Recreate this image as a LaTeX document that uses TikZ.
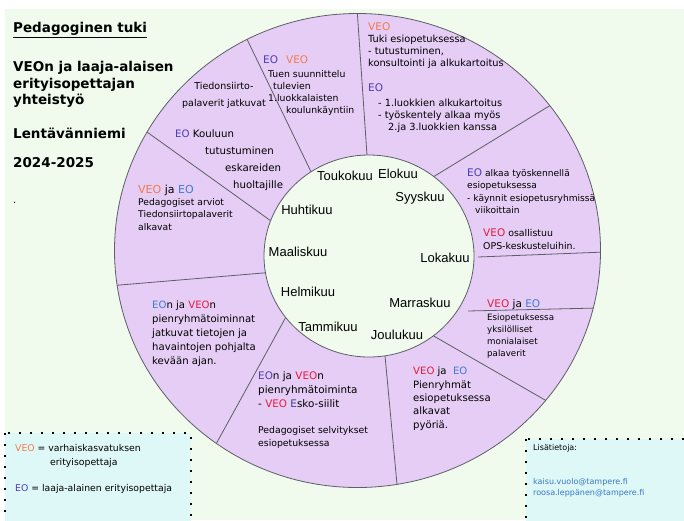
\documentclass[tikz,border=0pt]{standalone}
\usepackage{fontspec}
\setmainfont{DejaVu Sans}
\newfontfamily\monthfont{Liberation Sans}
\usepackage{xcolor}
\definecolor{bggreen}{HTML}{F0FBEE}
\definecolor{ringpurple}{HTML}{E5CDF5}
\definecolor{boxcyan}{HTML}{DDF8F6}
\definecolor{veoorange}{HTML}{F27B4B}
\definecolor{veored}{HTML}{E8193C}
\definecolor{eopurple}{HTML}{4C3BB8}
\definecolor{eoblue}{HTML}{3E7BD6}
\definecolor{eskoblue}{HTML}{3B3F8C}
\definecolor{maillink}{HTML}{3A78C8}
\definecolor{spokegray}{HTML}{5E5E66}
\newcommand{\veo}{\textcolor{veoorange}{VEO}}
\newcommand{\veor}{\textcolor{veored}{VEO}}
\newcommand{\eop}{\textcolor{eopurple}{EO}}
\newcommand{\eob}{\textcolor{eoblue}{EO}}
\newcommand{\fs}[2]{\fontsize{#1pt}{#2pt}\selectfont}
\newcommand{\hd}[1]{{\fontsize{10.5pt}{12pt}\selectfont #1}}
\tikzset{
  month/.style={font=\monthfont\fs{13}{15}, inner sep=0pt},
  note/.style={anchor=north west, align=left, inner sep=0pt},
  titlenote/.style={note, font=\bfseries\fs{13.5}{16.5}},
  spoke/.style={draw=spokegray, line width=0.8pt},
  dotbox/.style={fill=boxcyan, draw=black, line width=2pt, dash pattern=on 2pt off 9pt}
}

\begin{document}
\begin{tikzpicture}[x=1pt, y=-1pt]
\useasboundingbox (0,0) rectangle (684,520);
\fill[white] (0,0) rectangle (684,520);
\fill[bggreen] (5,9) rectangle (684,520);

\draw[dotbox] (5,433) rectangle (191,530);
\draw[dotbox] (526,439) rectangle (690,530);

\filldraw[fill=ringpurple, draw=spokegray, line width=0.8pt] (357.5,250.5) ellipse [x radius=243pt, y radius=237pt];
\begin{scope}
  \clip (357.5,250.5) ellipse [x radius=243pt, y radius=237pt];
  \foreach \ax/\ay/\bx/\by in {244/33/315/180, 357/8/368/170, 559/100/420/185,
      605/252/478/257, 598/308/468/311, 552/404/425/331, 398/495/384/345,
      210/455/292/306, 108/286/275/272, 140/127/278/226}
    \draw[spoke] (\ax,\ay) -- (\bx,\by);
\end{scope}
\filldraw[fill=bggreen, draw=spokegray, line width=0.8pt] (369,256) ellipse [x radius=105pt, y radius=101pt];

\node[month] (toukokuu) at (345,176) {Toukokuu};
\node[month] (elokuu) at (398,174) {Elokuu};
\node[month] (syyskuu) at (420,198) {Syyskuu};
\node[month] (huhtikuu) at (307,210) {Huhtikuu};
\node[month] (maaliskuu) at (298,252) {Maaliskuu};
\node[month] (lokakuu) at (445,258) {Lokakuu};
\node[month] (helmikuu) at (308,292) {Helmikuu};
\node[month] (marraskuu) at (420,303) {Marraskuu};
\node[month] (tammikuu) at (328,327) {Tammikuu};
\node[month] (joulukuu) at (397,335) {Joulukuu};

\node[titlenote] (otsikko) at (13,22.4) {\underline{Pedagoginen tuki}};
\node[titlenote] (yhteistyo) at (13,61.4) {VEOn ja laaja-alaisen\\erityisopettajan\\yhteistyö};
\node[titlenote] (koulu) at (13,127.4) {Lentävänniemi};
\node[titlenote] (vuosi) at (13,157.4) {2024-2025};
\node[anchor=base west, inner sep=0pt, font=\fs{10}{12}] (piste) at (13,203) {.};

\node[note, anchor=north, align=center, font=\fs{9.5}{16.5}] (jatkuvat) at (224,82.2) {Tiedonsiirto-\\palaverit jatkuvat};
\node[note, font=\fs{10.2}{16.7}] (kouluun) at (175,130) {\eop{} Kouluun\\\hspace*{30pt}tutustuminen\\\hspace*{50pt}eskareiden\\\hspace*{58pt}huoltajille};

\node[note, font=\fs{10.5}{12}] (eoveo) at (263,56) {\eop\hspace{8pt}\veo};
\node[note, font=\fs{9.3}{12}] (tuen) at (268,70.3) {Tuen suunnittelu\\\hspace*{5pt}tulevien\\1.luokkalaisten\\\hspace*{18pt}koulunkäyntiin};

\node[note, font=\fs{10.5}{12}] (veo-tuki) at (368,23) {\veo};
\node[note, font=\fs{9.8}{12}] (tukiteksti) at (368,35.1) {Tuki esiopetuksessa\\- tutustuminen,\\konsultointi ja alkukartoitus};
\node[note, font=\fs{10.5}{12}] (eo-alku) at (368,84) {\eop};
\node[note, font=\fs{9.8}{12}] (alkukartoitus) at (378,99.1) {- 1.luokkien alkukartoitus\\- työskentely alkaa myös\\\hspace*{10pt}2.ja 3.luokkien kanssa};

\node[note, font=\fs{9.1}{12.5}] (alkaa) at (467,168.3) {\hd{\eop} alkaa työskennellä\\esiopetuksessa\\- käynnit esiopetusryhmissä\\\hspace*{8pt}viikoittain};
\node[note, font=\fs{9.4}{13}] (ops) at (483,228.2) {\hd{\veor} osallistuu\\OPS-keskusteluihin.};

\node[note, font=\fs{10.5}{12}] (yksilolliset-otsikko) at (487,299) {\veor{} ja \eob};
\node[note, font=\fs{8.7}{12}] (yksilolliset) at (487,313.5) {Esiopetuksessa\\yksilölliset\\monialaiset\\palaverit};

\node[note, font=\fs{10.1}{13.3}] (pienryhmat) at (413,367) {\veor{} ja\ \ \eob\\Pienryhmät\\esiopetuksessa\\alkavat\\pyöriä.};

\node[note, font=\fs{10.4}{14}] (esko) at (258,371.8) {\eop{}n ja \veor{}n\\pienryhmätoiminta\\- \veor{} \textcolor{eskoblue}{E}sko-siilit};
\node[note, font=\fs{9.3}{12.5}] (selvitykset) at (258,426.3) {Pedagogiset selvitykset\\esiopetuksessa};

\node[note, font=\fs{10.1}{14}] (kevaan) at (152,301) {\eob{}n ja \veor{}n\\pienryhmätoiminnat\\jatkuvat tietojen ja\\havaintojen pohjalta\\kevään ajan.};

\node[note, font=\fs{11}{12}] (arviot-otsikko) at (138,184.6) {\veo{} ja \eob};
\node[note, font=\fs{9.2}{12.5}] (arviot) at (138,198.3) {Pedagogiset arviot\\Tiedonsiirtopalaverit\\alkavat};

\node[note, font=\fs{9.3}{14}] (selite-veo) at (15,444.3) {\veo{} = varhaiskasvatuksen\\\hspace*{35pt}erityisopettaja};
\node[note, font=\fs{9.3}{12}] (selite-eo) at (15,484.3) {\eop{} = laaja-alainen erityisopettaja};

\node[note, font=\fs{8}{11}] (lisatietoja) at (533,443.8) {Lisätietoja:};
\node[note, font=\fs{8}{11}, text=maillink] (sahkopostit) at (533,477.8) {kaisu.vuolo@tampere.fi\\roosa.leppänen@tampere.fi};
\end{tikzpicture}
\end{document}
